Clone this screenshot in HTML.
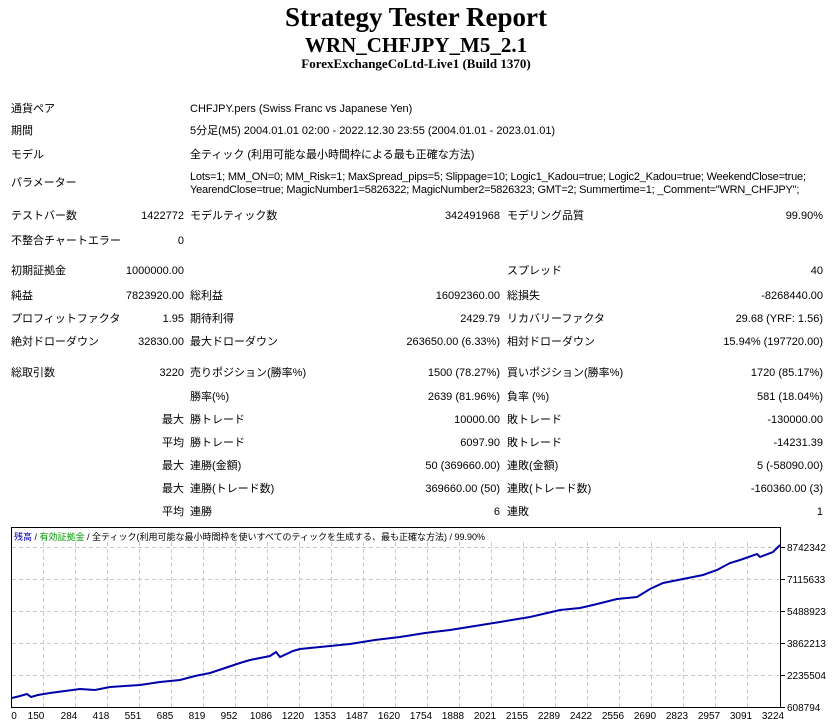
<!DOCTYPE html>
<html><head><meta charset="utf-8"><style>
body{margin:0;background:#fff;width:832px;height:726px;position:relative;overflow:hidden;font-family:"Liberation Sans","Noto Sans CJK JP",sans-serif;font-size:11px;color:#000}
.t{position:absolute;white-space:nowrap;line-height:14px}
.r{text-align:right}
.p{letter-spacing:-0.2px}
.h{position:absolute;left:0;width:832px;text-align:center;font-family:"Liberation Serif",serif;font-weight:bold;white-space:nowrap}
</style></head><body>
<div class="h" style="top:2px;font-size:27px">Strategy Tester Report</div>
<div class="h" style="top:33px;font-size:21px">WRN_CHFJPY_M5_2.1</div>
<div class="h" style="top:56px;font-size:13px">ForexExchangeCoLtd-Live1 (Build 1370)</div>

<div class="t" style="left:11px;top:102px">通貨ペア</div>
<div class="t" style="left:190px;top:102px">CHFJPY.pers (Swiss Franc vs Japanese Yen)</div>
<div class="t" style="left:11px;top:124px">期間</div>
<div class="t" style="left:190px;top:124px">5分足(M5) 2004.01.01 02:00 - 2022.12.30 23:55 (2004.01.01 - 2023.01.01)</div>
<div class="t" style="left:11px;top:148px">モデル</div>
<div class="t" style="left:190px;top:148px">全ティック (利用可能な最小時間枠による最も正確な方法)</div>
<div class="t" style="left:11px;top:176px">パラメーター</div>
<div class="t p" style="left:190px;top:170px">Lots=1; MM_ON=0; MM_Risk=1; MaxSpread_pips=5; Slippage=10; Logic1_Kadou=true; Logic2_Kadou=true; WeekendClose=true;</div>
<div class="t p" style="left:190px;top:183px">YearendClose=true; MagicNumber1=5826322; MagicNumber2=5826323; GMT=2; Summertime=1; _Comment="WRN_CHFJPY";</div>

<div class="t" style="left:11px;top:209px">テストバー数</div>
<div class="t r" style="right:648px;top:209px">1422772</div>
<div class="t" style="left:190px;top:209px">モデルティック数</div>
<div class="t r" style="right:332px;top:209px">342491968</div>
<div class="t" style="left:507px;top:209px">モデリング品質</div>
<div class="t r" style="right:9px;top:209px">99.90%</div>
<div class="t" style="left:11px;top:234px">不整合チャートエラー</div>
<div class="t r" style="right:648px;top:234px">0</div>

<div class="t" style="left:11px;top:264px">初期証拠金</div>
<div class="t r" style="right:648px;top:264px">1000000.00</div>
<div class="t" style="left:507px;top:264px">スプレッド</div>
<div class="t r" style="right:9px;top:264px">40</div>
<div class="t" style="left:11px;top:289px">純益</div>
<div class="t r" style="right:648px;top:289px">7823920.00</div>
<div class="t" style="left:190px;top:289px">総利益</div>
<div class="t r" style="right:332px;top:289px">16092360.00</div>
<div class="t" style="left:507px;top:289px">総損失</div>
<div class="t r" style="right:9px;top:289px">-8268440.00</div>
<div class="t" style="left:11px;top:312px">プロフィットファクタ</div>
<div class="t r" style="right:648px;top:312px">1.95</div>
<div class="t" style="left:190px;top:312px">期待利得</div>
<div class="t r" style="right:332px;top:312px">2429.79</div>
<div class="t" style="left:507px;top:312px">リカバリーファクタ</div>
<div class="t r" style="right:9px;top:312px">29.68 (YRF: 1.56)</div>
<div class="t" style="left:11px;top:335px">絶対ドローダウン</div>
<div class="t r" style="right:648px;top:335px">32830.00</div>
<div class="t" style="left:190px;top:335px">最大ドローダウン</div>
<div class="t r" style="right:332px;top:335px">263650.00 (6.33%)</div>
<div class="t" style="left:507px;top:335px">相対ドローダウン</div>
<div class="t r" style="right:9px;top:335px">15.94% (197720.00)</div>

<div class="t" style="left:11px;top:366px">総取引数</div>
<div class="t r" style="right:648px;top:366px">3220</div>
<div class="t" style="left:190px;top:366px">売りポジション(勝率%)</div>
<div class="t r" style="right:332px;top:366px">1500 (78.27%)</div>
<div class="t" style="left:507px;top:366px">買いポジション(勝率%)</div>
<div class="t r" style="right:9px;top:366px">1720 (85.17%)</div>
<div class="t" style="left:190px;top:390px">勝率(%)</div>
<div class="t r" style="right:332px;top:390px">2639 (81.96%)</div>
<div class="t" style="left:507px;top:390px">負率 (%)</div>
<div class="t r" style="right:9px;top:390px">581 (18.04%)</div>
<div class="t r" style="right:648px;top:413px">最大</div>
<div class="t" style="left:190px;top:413px">勝トレード</div>
<div class="t r" style="right:332px;top:413px">10000.00</div>
<div class="t" style="left:507px;top:413px">敗トレード</div>
<div class="t r" style="right:9px;top:413px">-130000.00</div>
<div class="t r" style="right:648px;top:436px">平均</div>
<div class="t" style="left:190px;top:436px">勝トレード</div>
<div class="t r" style="right:332px;top:436px">6097.90</div>
<div class="t" style="left:507px;top:436px">敗トレード</div>
<div class="t r" style="right:9px;top:436px">-14231.39</div>
<div class="t r" style="right:648px;top:459px">最大</div>
<div class="t" style="left:190px;top:459px">連勝(金額)</div>
<div class="t r" style="right:332px;top:459px">50 (369660.00)</div>
<div class="t" style="left:507px;top:459px">連敗(金額)</div>
<div class="t r" style="right:9px;top:459px">5 (-58090.00)</div>
<div class="t r" style="right:648px;top:482px">最大</div>
<div class="t" style="left:190px;top:482px">連勝(トレード数)</div>
<div class="t r" style="right:332px;top:482px">369660.00 (50)</div>
<div class="t" style="left:507px;top:482px">連敗(トレード数)</div>
<div class="t r" style="right:9px;top:482px">-160360.00 (3)</div>
<div class="t r" style="right:648px;top:505px">平均</div>
<div class="t" style="left:190px;top:505px">連勝</div>
<div class="t r" style="right:332px;top:505px">6</div>
<div class="t" style="left:507px;top:505px">連敗</div>
<div class="t r" style="right:9px;top:505px">1</div>

<svg style="position:absolute;left:0;top:0" width="832" height="726">
<g stroke="#c8c8c8" stroke-dasharray="4,3" stroke-width="1">
<line x1="12" y1="547.5" x2="780" y2="547.5"/><line x1="12" y1="579.5" x2="780" y2="579.5"/>
<line x1="12" y1="611.5" x2="780" y2="611.5"/><line x1="12" y1="643.5" x2="780" y2="643.5"/>
<line x1="12" y1="675.5" x2="780" y2="675.5"/>
<line x1="43.5" y1="542" x2="43.5" y2="707"/><line x1="75.5" y1="542" x2="75.5" y2="707"/>
<line x1="107.5" y1="542" x2="107.5" y2="707"/><line x1="139.5" y1="542" x2="139.5" y2="707"/>
<line x1="171.5" y1="542" x2="171.5" y2="707"/><line x1="203.5" y1="542" x2="203.5" y2="707"/>
<line x1="235.5" y1="542" x2="235.5" y2="707"/><line x1="267.5" y1="542" x2="267.5" y2="707"/>
<line x1="299.5" y1="542" x2="299.5" y2="707"/><line x1="331.5" y1="542" x2="331.5" y2="707"/>
<line x1="363.5" y1="542" x2="363.5" y2="707"/><line x1="395.5" y1="542" x2="395.5" y2="707"/>
<line x1="427.5" y1="542" x2="427.5" y2="707"/><line x1="459.5" y1="542" x2="459.5" y2="707"/>
<line x1="491.5" y1="542" x2="491.5" y2="707"/><line x1="523.5" y1="542" x2="523.5" y2="707"/>
<line x1="555.5" y1="542" x2="555.5" y2="707"/><line x1="587.5" y1="542" x2="587.5" y2="707"/>
<line x1="619.5" y1="542" x2="619.5" y2="707"/><line x1="651.5" y1="542" x2="651.5" y2="707"/>
<line x1="683.5" y1="542" x2="683.5" y2="707"/><line x1="715.5" y1="542" x2="715.5" y2="707"/>
<line x1="747.5" y1="542" x2="747.5" y2="707"/>
</g>
<rect x="11.5" y="527.5" width="769" height="180" fill="none" stroke="#000" stroke-width="1"/>
<g stroke="#000"><line x1="781" y1="547.5" x2="785" y2="547.5"/><line x1="781" y1="579.5" x2="785" y2="579.5"/><line x1="781" y1="611.5" x2="785" y2="611.5"/><line x1="781" y1="643.5" x2="785" y2="643.5"/><line x1="781" y1="675.5" x2="785" y2="675.5"/><line x1="781" y1="707.5" x2="785" y2="707.5"/></g>
<polyline fill="none" stroke="#0000aa" stroke-width="2" points="12,698 20,696 27,694 31,697 38,695 50,693 65,691 80,689 95,690 110,687 125,686 140,685 160,682 180,680 195,676 210,673 225,668 240,663 250,660 260,658 270,656 276,652 280,657 293,651 300,649 320,647 350,644 375,640 400,637 425,633 450,630 475,626 500,622 530,617 560,610 580,608 593,605 617,599 637,597 650,589 663,583 683,579 703,575 717,570 730,563 740,560 757,554 760,557 773,552 780,545"/>
<g font-family="Liberation Sans,sans-serif" font-size="10" fill="#000">
<text x="787" y="551">8742342</text><text x="787" y="583">7115633</text><text x="787" y="615">5488923</text><text x="787" y="647">3862213</text><text x="787" y="679">2235504</text><text x="787" y="711">608794</text>
<g text-anchor="middle">
<text x="14" y="719">0</text><text x="36" y="719">150</text><text x="69" y="719">284</text><text x="101" y="719">418</text><text x="133" y="719">551</text><text x="165" y="719">685</text><text x="197" y="719">819</text><text x="229" y="719">952</text><text x="261" y="719">1086</text><text x="293" y="719">1220</text><text x="325" y="719">1353</text><text x="357" y="719">1487</text><text x="389" y="719">1620</text><text x="421" y="719">1754</text><text x="453" y="719">1888</text><text x="485" y="719">2021</text><text x="517" y="719">2155</text><text x="549" y="719">2289</text><text x="581" y="719">2422</text><text x="613" y="719">2556</text><text x="645" y="719">2690</text><text x="677" y="719">2823</text><text x="709" y="719">2957</text><text x="741" y="719">3091</text><text x="773" y="719">3224</text>
</g></g>
<text x="14" y="540" font-family="Liberation Sans,Noto Sans CJK JP,sans-serif" font-size="9"><tspan fill="#0000aa">残高</tspan> / <tspan fill="#00a000">有効証拠金</tspan> / 全ティック(利用可能な最小時間枠を使いすべてのティックを生成する、最も正確な方法) / 99.90%</text>
</svg>
</body></html>
